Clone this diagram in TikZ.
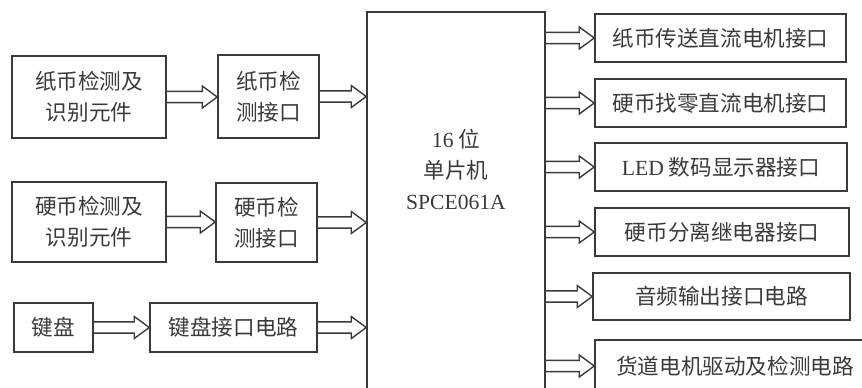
\documentclass[tikz,border=0pt]{standalone}
\usepackage{fontspec}
\setmainfont{Noto Sans CJK SC}
\newfontfamily\latin{Liberation Serif}
\usetikzlibrary{calc}
\definecolor{ink}{HTML}{3A3A3A}
\tikzset{
  blk/.style={draw=ink, line width=0.75pt, inner sep=0pt, align=center, text=ink,
    font=\fontsize{10.8pt}{15.5pt}\selectfont},
  fat/.style={draw=ink, line width=0.7pt, line join=miter},
}
% hollow block arrow, y taken from the first point
\newcommand{\fatarrow}[2]{%
  \draw[fat] let \p1=#1, \p2=#2 in
    (\x1,\y1+2.8pt) -- (\x2-7.5pt,\y1+2.8pt) -- (\x2-7.5pt,\y1+5.5pt)
    -- (\x2,\y1) -- (\x2-7.5pt,\y1-5.5pt) -- (\x2-7.5pt,\y1-2.8pt) -- (\x1,\y1-2.8pt);}

\begin{document}
\begin{tikzpicture}[x=0.5pt,y=-0.5pt]
\clip (0,0) rectangle (862,387);
% left column
\node[blk, minimum width=77pt, minimum height=41pt] (zbsen) at (89,97) {纸币检测及\\识别元件};
\node[blk, minimum width=50.5pt, minimum height=41.5pt] (zbif) at (268.5,96.5) {纸币检\\测接口};
\node[blk, minimum width=77pt, minimum height=40pt] (ybsen) at (89,222) {硬币检测及\\识别元件};
\node[blk, minimum width=50.5pt, minimum height=39.5pt] (ybif) at (266.5,222.5) {硬币检\\测接口};
\node[blk, minimum width=39.5pt, minimum height=24.5pt] (kb) at (53.5,327.5) {键盘};
\node[blk, minimum width=83.5pt, minimum height=24.5pt] (kbif) at (233.5,327.5) {键盘接口电路};
% mcu
\node[blk, minimum width=89pt, minimum height=194pt] (cpu) at (456,206) {};
\node[text=ink, font=\fontsize{10.8pt}{15.5pt}\selectfont, align=center] (cputxt) at (456,169)
  {{\latin 16} 位\\单片机\\{\latin SPCE061A}};
% right column
\node[blk, minimum width=125.5pt, minimum height=24pt] (r1) at (720.5,38) {纸币传送直流电机接口};
\node[blk, minimum width=125.5pt, minimum height=24pt] (r2) at (720.5,103) {硬币找零直流电机接口};
\node[blk, minimum width=126pt, minimum height=24pt] (r3) at (721,167) {{\latin LED} 数码显示器接口};
\node[blk, minimum width=127pt, minimum height=24pt] (r4) at (722,232) {硬币分离继电器接口};
\node[blk, minimum width=128.5pt, minimum height=23.5pt] (r5) at (721.5,296.5) {音频输出接口电路};
\node[blk, minimum width=140pt, minimum height=26pt] (r6) at (735,366) {货道电机驱动及检测电路};
% arrows
\fatarrow{(zbsen.east)}{(zbif.west)}
\fatarrow{(zbif.east)}{(cpu.west)}
\fatarrow{(ybsen.east)}{(ybif.west)}
\fatarrow{(ybif.east)}{(cpu.west)}
\fatarrow{(kb.east)}{(kbif.west)}
\fatarrow{(kbif.east)}{(cpu.west)}
\foreach \r in {r1,r2,r3,r4,r5,r6}
  \fatarrow{(cpu.east |- \r.west)}{(\r.west)};
\end{tikzpicture}
\end{document}
